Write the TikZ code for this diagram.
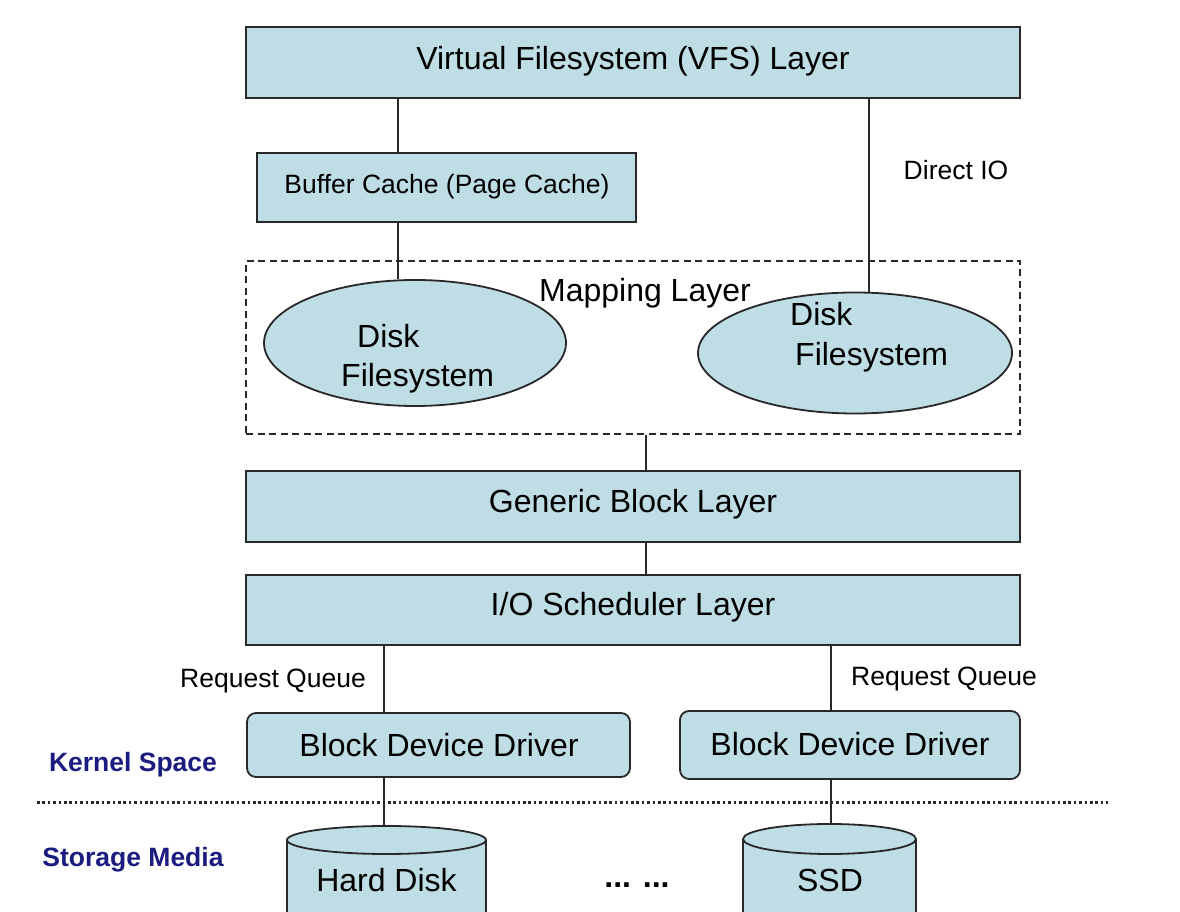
\documentclass[tikz,border=0pt]{standalone}
\usepackage{fontspec}
\setmainfont{Liberation Sans}
\usetikzlibrary{shapes.geometric}
\definecolor{boxfill}{RGB}{190,221,229}
\definecolor{linec}{RGB}{40,40,40}
\definecolor{navy}{RGB}{28,28,128}
\begin{document}
\begin{tikzpicture}[x=1pt,y=1pt,
  layerbox/.style={draw=linec,fill=boxfill,line width=1.8pt,inner sep=0pt,anchor=center},
  drvbox/.style={layerbox,rounded corners=9pt},
  fsell/.style={draw=linec,fill=boxfill,line width=1.8pt,ellipse,inner sep=0pt},
  big/.style={font=\fontsize{32}{38}\selectfont,inner sep=0pt},
  small/.style={font=\fontsize{26.5}{31}\selectfont,inner sep=0pt},
  side/.style={font=\fontsize{26.5}{31}\selectfont\bfseries,text=navy,inner sep=0pt},
  conn/.style={draw=linec,line width=1.8pt},
  disk/.style={draw=linec,fill=boxfill,line width=1.8pt}
]
\clip (0,0) rectangle (1180,912);
\fill[white] (0,0) rectangle (1180,912);

% layer boxes
\node[layerbox,minimum width=774pt,minimum height=71pt] (vfs) at (633,849.5) {};
\node[big] (vfst) at (633,851) {Virtual Filesystem (VFS) Layer};
\node[layerbox,minimum width=379pt,minimum height=69pt] (buf) at (446.5,724.5) {};
\node[small] (buft) at (447,725) {Buffer Cache (Page Cache)};
\node[small] (dio) at (956,742) {Direct IO};

% mapping layer
\node[draw=linec,line width=1.5pt,dash pattern=on 7pt off 4.5pt,minimum width=774pt,minimum height=173pt,inner sep=0pt] (map) at (633,564.5) {};
\node[fsell,minimum width=302pt,minimum height=126pt] (lfs) at (415,569) {};
\node[fsell,minimum width=314pt,minimum height=121pt] (rfs) at (855,559) {};
\node[big] (mapt) at (645,619) {Mapping Layer};
\node[big,anchor=west] (lfs1) at (357,576) {Disk};
\node[big,anchor=west] (lfs2) at (341,534) {Filesystem};
\node[big,anchor=west] (rfs1) at (790,598) {Disk};
\node[big,anchor=west] (rfs2) at (795,555) {Filesystem};

\node[layerbox,minimum width=774pt,minimum height=71pt] (gbl) at (633,405.5) {};
\node[big] (gblt) at (633,408) {Generic Block Layer};
\node[layerbox,minimum width=774pt,minimum height=70pt] (ios) at (633,302) {};
\node[big] (iost) at (633,305) {I/O Scheduler Layer};

\node[small] (rq1) at (273,231) {Request Queue};
\node[small] (rq2) at (944,233) {Request Queue};

\node[drvbox,minimum width=383pt,minimum height=64pt] (bdd1) at (438.5,167) {};
\node[big] (bdd1t) at (439,167) {Block Device Driver};
\node[drvbox,minimum width=340pt,minimum height=68pt] (bdd2) at (850,167) {};
\node[big] (bdd2t) at (850,168) {Block Device Driver};

\node[side] (ks) at (133,147) {Kernel Space};
\node[side] (sm) at (133,52) {Storage Media};

\coordinate (dl) at (37,109);
\coordinate (dr) at (1108,109);
\draw[draw=linec,line width=3pt,dash pattern=on 2.6pt off 2.8pt] (dl) -- (dr);

% cylinders
\filldraw[disk] (287,72) -- (287,-30) -- (486,-30) -- (486,72)
  arc[start angle=0,end angle=360,x radius=99.5pt,y radius=14pt];
\coordinate (hdtop) at (386.5,86);
\node[big] (hdt) at (386.5,32) {Hard Disk};
\filldraw[disk] (743,73) -- (743,-30) -- (916,-30) -- (916,73)
  arc[start angle=0,end angle=360,x radius=86.5pt,y radius=15pt];
\coordinate (ssdtop) at (829.5,88);
\node[big] (ssdt) at (830,32) {SSD};
\node[font=\fontsize{32}{38}\selectfont\bfseries,inner sep=0pt] (dots) at (637,27) {... ...};

% connector columns
\coordinate (cA) at (398,0);
\coordinate (cB) at (869,0);
\coordinate (cC) at (646,0);
\coordinate (cD) at (384,0);
\coordinate (cE) at (831,0);

\draw[conn] (vfs.south -| cA) -- (buf.north -| cA);
\draw[conn] (buf.south -| cA) -- (lfs.north -| cA);
\draw[conn] (vfs.south -| cB) -- (rfs.north -| cB);
\draw[conn] (map.south -| cC) -- (gbl.north -| cC);
\draw[conn] (gbl.south -| cC) -- (ios.north -| cC);
\draw[conn] (ios.south -| cD) -- (bdd1.north -| cD);
\draw[conn] (ios.south -| cE) -- (bdd2.north -| cE);
\draw[conn] (bdd1.south -| cD) -- (hdtop -| cD);
\draw[conn] (bdd2.south -| cE) -- (ssdtop -| cE);
\end{tikzpicture}
\end{document}
